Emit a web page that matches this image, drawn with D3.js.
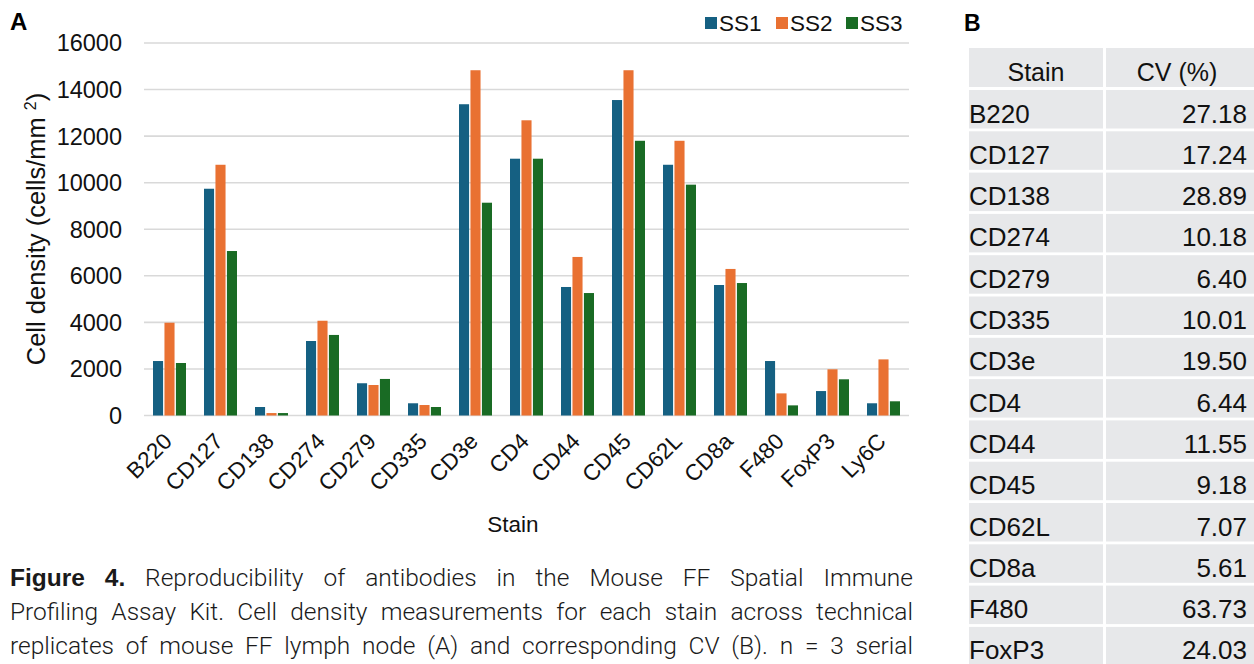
<!DOCTYPE html>
<html>
<head>
<meta charset="utf-8">
<script src="https://cdn.jsdelivr.net/npm/d3@7/dist/d3.min.js"></script>
<style>
  html, body { margin: 0; padding: 0; background: #fff; }
  svg { display: block; }
</style>
</head>
<body>
<svg id="fig" width="1254" height="664"></svg>
<script>
// stains on the x axis
const stains = ['B220', 'CD127', 'CD138', 'CD274', 'CD279', 'CD335', 'CD3e', 'CD4',
  'CD44', 'CD45', 'CD62L', 'CD8a', 'F480', 'FoxP3', 'Ly6C'];
const seriesNames = ['SS1', 'SS2', 'SS3'];

// cell density (cells/mm2)
const ss1 = [2340, 9740, 365, 3200, 1385, 525, 13370, 11030, 5520, 13550, 10770, 5605, 2340, 1050, 525];
const ss2 = [3985, 10770, 105, 4070, 1310, 450, 14830, 12680, 6810, 14830, 11800, 6295, 950, 1985, 2410];
const ss3 = [2255, 7065, 105, 3460, 1570, 365, 9140, 11030, 5260, 11800, 9915, 5690, 435, 1555, 610];

const yTicks = [0, 2000, 4000, 6000, 8000, 10000, 12000, 14000, 16000];

// panel B table
const tableStains = ['B220', 'CD127', 'CD138', 'CD274', 'CD279', 'CD335', 'CD3e', 'CD4',
  'CD44', 'CD45', 'CD62L', 'CD8a', 'F480', 'FoxP3'];
const cvValues = ['27.18', '17.24', '28.89', '10.18', '6.40', '10.01', '19.50', '6.44',
  '11.55', '9.18', '7.07', '5.61', '63.73', '24.03'];

const captionLines = [
  [{t: 'Figure', b: true}, {t: '4.', b: true}, 'Reproducibility', 'of', 'antibodies', 'in', 'the', 'Mouse', 'FF', 'Spatial', 'Immune'],
  'Profiling Assay Kit. Cell density measurements for each stain across technical'.split(' '),
  'replicates of mouse FF lymph node (A) and corresponding CV (B). n = 3 serial'.split(' ')
];

const colors = {SS1: '#156082', SS2: '#E97132', SS3: '#196B24'};
const font = 'Liberation Sans, Arial, sans-serif';

const svg = d3.select('#fig');

// ---- panel A ----
const plot = {left: 144, right: 909, top: 43, bottom: 415.5};

const x0 = d3.scaleBand().domain(stains).range([plot.left, plot.right]);
const x1 = d3.scaleBand().domain(seriesNames)
  .range([x0.bandwidth() / 2 - 16.5, x0.bandwidth() / 2 + 16.5])
  .paddingInner(0.12);
const y = d3.scaleLinear().domain([0, 16000]).range([plot.bottom, plot.top]);

// gridlines
svg.append('g')
  .selectAll('line')
  .data(yTicks)
  .enter().append('line')
  .attr('x1', plot.left)
  .attr('x2', plot.right)
  .attr('y1', d => y(d))
  .attr('y2', d => y(d))
  .attr('stroke', '#d9d9d9')
  .attr('stroke-width', 1.6);

// y tick labels
svg.append('g')
  .selectAll('text')
  .data(yTicks)
  .enter().append('text')
  .attr('x', 122)
  .attr('y', d => y(d))
  .attr('dy', '0.36em')
  .attr('text-anchor', 'end')
  .attr('font-family', font)
  .attr('font-size', 23.5)
  .attr('fill', '#111')
  .text(d => d);

// bars
const rows = stains.map((s, i) => ({stain: s, SS1: ss1[i], SS2: ss2[i], SS3: ss3[i]}));
svg.append('g')
  .selectAll('g')
  .data(rows)
  .enter().append('g')
  .attr('transform', d => 'translate(' + x0(d.stain) + ',0)')
  .selectAll('rect')
  .data(d => seriesNames.map(k => ({key: k, value: d[k]})))
  .enter().append('rect')
  .attr('x', d => x1(d.key))
  .attr('width', x1.bandwidth())
  .attr('y', d => y(d.value))
  .attr('height', d => y(0) - y(d.value))
  .attr('fill', d => colors[d.key]);

// x tick labels
svg.append('g')
  .selectAll('text')
  .data(stains)
  .enter().append('text')
  .attr('transform', d => 'translate(' + (x0(d) + x0.bandwidth() / 2 - 2) + ',' + 437 + ') rotate(-45)')
  .attr('text-anchor', 'end')
  .attr('dy', '0.36em')
  .attr('font-family', font)
  .attr('font-size', 22.5)
  .attr('fill', '#111')
  .text(d => d);

// axis titles
svg.append('text')
  .attr('x', 513)
  .attr('y', 532)
  .attr('text-anchor', 'middle')
  .attr('font-family', font)
  .attr('font-size', 22.5)
  .attr('fill', '#111')
  .text('Stain');

const yTitle = svg.append('text')
  .attr('transform', 'translate(45,229) rotate(-90)')
  .attr('text-anchor', 'middle')
  .attr('font-family', font)
  .attr('font-size', 25.5)
  .attr('fill', '#111');
yTitle.append('tspan').text('Cell density (cells/mm ');
yTitle.append('tspan').attr('font-size', 16).attr('dy', -9).text('2');
yTitle.append('tspan').attr('dy', 9).text(')');

// legend
const legend = svg.append('g')
  .selectAll('g')
  .data(seriesNames)
  .enter().append('g')
  .attr('transform', (d, i) => 'translate(' + [705, 776, 846][i] + ',0)');
legend.append('rect')
  .attr('y', 17)
  .attr('width', 12)
  .attr('height', 12)
  .attr('fill', d => colors[d]);
legend.append('text')
  .attr('x', 14)
  .attr('y', 31)
  .attr('font-family', font)
  .attr('font-size', 22.5)
  .attr('fill', '#111')
  .text(d => d);

// panel letters
svg.append('text').attr('x', 10).attr('y', 30)
  .attr('font-family', font).attr('font-weight', 'bold').attr('font-size', 24).text('A');
svg.append('text').attr('x', 964).attr('y', 31)
  .attr('font-family', font).attr('font-weight', 'bold').attr('font-size', 23).text('B');

// ---- panel B table ----
const col1 = {x: 969, w: 134};
const col2 = {x: 1106, w: 148};
const table = svg.append('g');

table.append('rect').attr('x', col1.x).attr('y', 48).attr('width', col1.w).attr('height', 39).attr('fill', '#e7e8ea');
table.append('rect').attr('x', col2.x).attr('y', 48).attr('width', col2.w).attr('height', 39).attr('fill', '#e7e8ea');
table.append('text').attr('x', col1.x + col1.w / 2).attr('y', 81)
  .attr('text-anchor', 'middle').attr('font-family', font).attr('font-size', 25).attr('fill', '#111').text('Stain');
table.append('text').attr('x', 1177).attr('y', 81)
  .attr('text-anchor', 'middle').attr('font-family', font).attr('font-size', 25).attr('fill', '#111').text('CV (%)');

const rowY = d3.scaleLinear().domain([0, 1]).range([90, 131.3]);
const tr = table.selectAll('g.row')
  .data(tableStains)
  .enter().append('g')
  .attr('class', 'row')
  .attr('transform', (d, i) => 'translate(0,' + rowY(i) + ')');
tr.append('rect').attr('x', col1.x).attr('width', col1.w).attr('height', 38.5).attr('fill', '#e7e8ea');
tr.append('rect').attr('x', col2.x).attr('width', col2.w).attr('height', 38.5).attr('fill', '#e7e8ea');
tr.append('text').attr('x', col1.x).attr('y', 32.5)
  .attr('font-family', font).attr('font-size', 26).attr('fill', '#111').text(d => d);
tr.append('text').attr('x', 1247).attr('y', 32.5)
  .attr('text-anchor', 'end')
  .attr('font-family', font).attr('font-size', 26).attr('fill', '#111')
  .text((d, i) => cvValues[i]);

// ---- caption, justified between x=10 and x=913 ----
const capFont = 'Roboto, Lato, sans-serif';
captionLines.forEach((words, li) => {
  const g = svg.append('g');
  const items = words.map(w => (typeof w === 'string' ? {t: w, b: false} : w));
  const nodes = items.map(w => g.append('text')
    .attr('y', 586 + li * 34)
    .attr('font-family', w.b ? font : capFont)
    .attr('font-weight', w.b ? 'bold' : 300)
    .attr('font-size', 24.5)
    .attr('fill', '#1a1a1a')
    .text(w.t));
  const widths = nodes.map(n => n.node().getComputedTextLength());
  const gap = (913 - 10 - d3.sum(widths)) / (nodes.length - 1);
  let cx = 10;
  nodes.forEach((n, i) => {
    n.attr('x', cx);
    cx += widths[i] + gap;
  });
});
</script>
</body>
</html>
